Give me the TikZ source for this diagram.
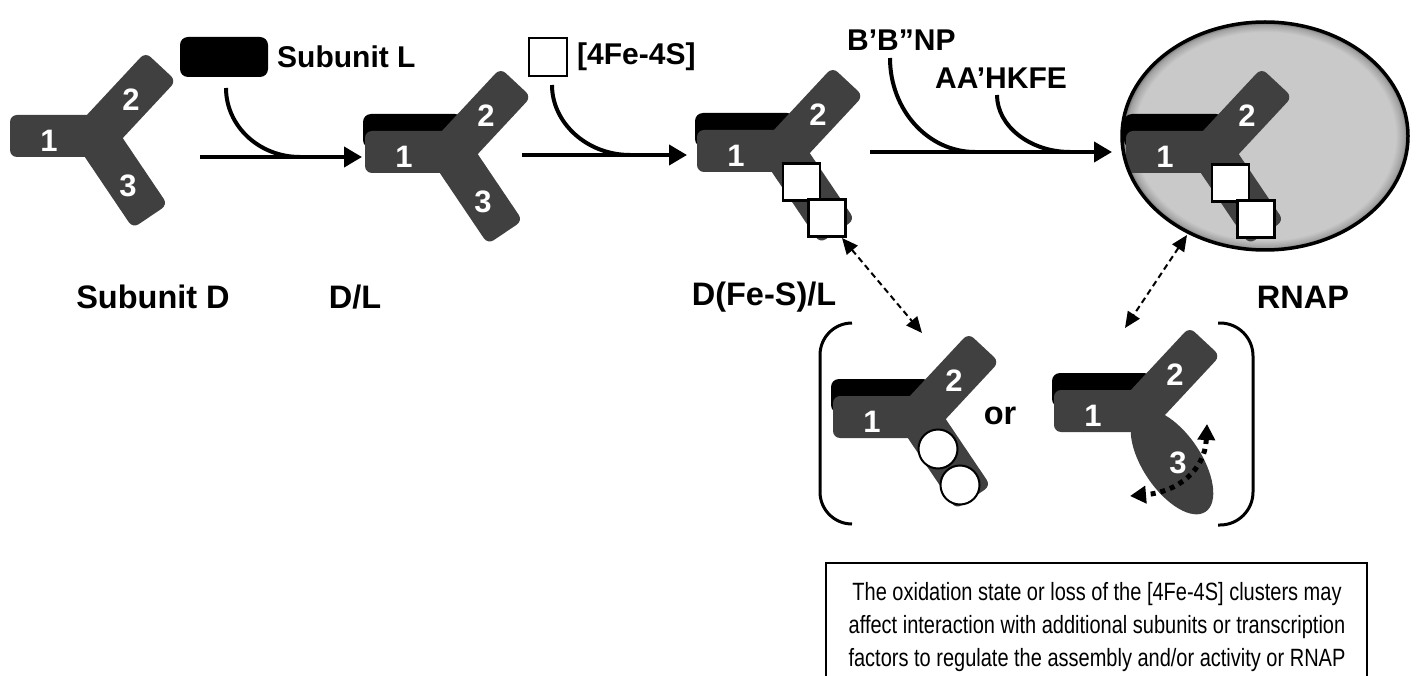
\documentclass[tikz,border=0pt]{standalone}
\usepackage{fontspec}
\setmainfont{Liberation Sans}
\usetikzlibrary{arrows.meta}
\definecolor{armgray}{HTML}{404040}
\definecolor{rnapgray}{HTML}{C9C9C9}
\definecolor{rimA}{HTML}{A2A2A2}
\definecolor{rimB}{HTML}{6A6A6A}
\pgfdeclareradialshading{rnaprim}{\pgfpoint{0bp}{0bp}}{color(0bp)=(rnapgray); color(22.8bp)=(rnapgray); color(24.3bp)=(rimA); color(25bp)=(rimB); color(50bp)=(rimB)}
\tikzset{
  arm/.style={fill=armgray, rounded corners=7pt},
  num/.style={text=white, font=\bfseries\fontsize{31}{31}\selectfont, inner sep=0pt},
  lbl/.style={font=\bfseries\fontsize{30}{30}\selectfont, inner sep=0pt},
  biglbl/.style={font=\bfseries\fontsize{32.5}{32.5}\selectfont, inner sep=0pt},
  mainarrow/.style={line width=4pt, -{Triangle[length=18pt,width=20pt]}},
  feed/.style={line width=4pt},
  dasharrow/.style={line width=2pt, dash pattern=on 6pt off 4pt, {Triangle[length=16pt,width=14pt]}-{Triangle[length=16pt,width=14pt]}},
  dotarrow/.style={line width=5pt, dash pattern=on 5pt off 5pt, {Triangle[length=16pt,width=17pt]}-{Triangle[length=16pt,width=17pt]}},
  cluster/.style={fill=white, draw=black, line width=2.5pt},
  bracket/.style={line width=3pt},
  arm one/.pic={\fill[arm] (10,-21) -- (-86,-21) -- (-86,21) -- (10,21) -- cycle;},
  arm two/.pic={\fill[arm, rotate=47] (-10,-21) -- (95,-21) -- (95,21) -- (-10,21) -- cycle;},
  arm three/.pic={\fill[arm, rotate=-56] (-10,-21) -- (97,-21) -- (97,21) -- (-10,21) -- cycle;},
  lbar/.pic={\fill[black, rounded corners=8pt] (-88,4) rectangle (12,38);},
  num12/.pic={\node[num] (-one) at (-47,-5) {1}; \node[num] (-two) at (35,36) {2};},
  num3/.pic={\node[num] (-three) at (32,-50) {3};},
  squares/.pic={\filldraw[cluster] (0,-12.5) rectangle (37,-49.5); \filldraw[cluster] (25.5,-48.5) rectangle (62.5,-85.5);},
  circles/.pic={\filldraw[cluster, line width=2pt] (19,-32) circle [radius=19.5pt]; \filldraw[cluster, line width=2pt] (41,-68) circle [radius=19.5pt];},
}
\begin{document}
\begin{tikzpicture}[x=1pt,y=1pt]
\useasboundingbox (0,0) rectangle (1421,-676);

% ---------- Y1: Subunit D ----------
\pic at (96,-136) {arm one};
\pic at (96,-136) {arm two};
\pic at (96,-136) {arm three};
\pic (y1) at (96,-136) {num12};
\pic (y1) at (96,-136) {num3};

% ---------- Subunit L + arrow 1 ----------
\node[fill=black, rounded corners=8pt, minimum width=88pt, minimum height=40pt, inner sep=0pt] (subL) at (224,-57) {};
\node[lbl, anchor=west] (subLtxt) at (277,-57) {Subunit L};
\coordinate (a1s) at (200,-157);
\coordinate (a1e) at (362,-157);
\coordinate (f1s) at (226,-88);
\coordinate (f1e) at (300,-157);
\draw[mainarrow] (a1s) -- (a1e);
\draw[feed] (f1s) .. controls (226,-126) and (259,-157) .. (f1e);

% ---------- Y2: D/L ----------
\pic at (451,-152) {lbar};
\pic at (451,-152) {arm one};
\pic at (451,-152) {arm two};
\pic at (451,-152) {arm three};
\pic (y2) at (451,-152) {num12};
\pic (y2) at (451,-152) {num3};

% ---------- [4Fe-4S] + arrow 2 ----------
\node[cluster, minimum size=38pt, inner sep=0pt] (fes) at (548,-57) {};
\node[lbl, anchor=west] (festxt) at (577,-57) {[4Fe-4S]};
\coordinate (a2s) at (522,-155);
\coordinate (a2e) at (687,-155);
\coordinate (f2s) at (552,-85);
\coordinate (f2e) at (630,-155);
\draw[mainarrow] (a2s) -- (a2e);
\draw[feed] (f2s) .. controls (552,-123) and (587,-155) .. (f2e);

% ---------- Y3: D(Fe-S)/L ----------
\pic at (783,-151) {lbar};
\pic at (783,-151) {arm one};
\pic at (783,-151) {arm two};
\pic at (783,-151) {arm three};
\pic (y3) at (783,-151) {num12};
\pic at (783,-151) {squares};

% ---------- arrow 3 ----------
\node[lbl, anchor=west] (bbnp) at (847,-40) {B’B”NP};
\node[lbl, anchor=west] (aahk) at (935,-78) {AA’HKFE};
\coordinate (a3s) at (870,-152);
\coordinate (a3e) at (1112,-152);
\coordinate (f3s) at (890,-58);
\coordinate (f3e) at (975,-152);
\coordinate (f4s) at (997,-95);
\coordinate (f4e) at (1070,-152);
\draw[mainarrow] (a3s) -- (a3e);
\draw[feed] (f3s) .. controls (890,-110) and (928,-152) .. (f3e);
\draw[feed] (f4s) .. controls (997,-126) and (1030,-152) .. (f4e);

% ---------- RNAP ----------
\shade[shading=rnaprim] (1265,-136) ellipse [x radius=143pt, y radius=114pt];
\pic at (1212,-152) {lbar};
\pic at (1212,-152) {arm one};
\pic at (1212,-152) {arm two};
\pic at (1212,-152) {arm three};
\pic (y4) at (1212,-152) {num12};
\pic at (1212,-152) {squares};
\draw[line width=3.5pt] (1265,-136) ellipse [x radius=143pt, y radius=114pt];

% ---------- labels ----------
\node[biglbl] (lD) at (153,-297) {Subunit D};
\node[biglbl] (lDL) at (355,-297) {D/L};
\node[biglbl] (lDFe) at (764,-297) {D(Fe-S)/L};
\node[biglbl] (lRNAP) at (1303,-297) {RNAP};

% ---------- dashed double arrows ----------
\coordinate (d1a) at (842,-238);
\coordinate (d1b) at (922,-333);
\coordinate (d2a) at (1187,-235);
\coordinate (d2b) at (1125,-328);
\draw[dasharrow] (d1a) -- (d1b);
\draw[dasharrow] (d2a) -- (d2b);

% ---------- brackets ----------
\draw[bracket, rounded corners=32pt] (852,-323) -- (820,-323) -- (820,-524) -- (852,-524);
\draw[bracket, rounded corners=33pt] (1218,-323) -- (1253,-323) -- (1253,-525) -- (1218,-525);

% ---------- Y5: cluster loss ----------
\pic at (919,-417) {lbar};
\pic at (919,-417) {arm one};
\pic at (919,-417) {arm two};
\pic at (919,-417) {arm three};
\pic (y5) at (919,-417) {num12};
\pic at (919,-417) {circles};

\node[biglbl] (or) at (1000,-416) {or};

% ---------- Y6: domain 3 movement ----------
\pic at (1140,-411) {lbar};
\pic at (1140,-411) {arm one};
\pic at (1140,-411) {arm two};
\begin{scope}[shift={(1172,-462)}, rotate=-56]
  \fill[armgray] (0,0) ellipse [x radius=60pt, y radius=29pt];
\end{scope}
\pic (y6) at (1140,-411) {num12};
\node[num] (y6three) at (1178,-463) {3};
\coordinate (m1) at (1207,-424);
\coordinate (m2) at (1130,-496);
\draw[dotarrow] (m1) .. controls (1205,-470) and (1178,-492) .. (m2);

% ---------- text box ----------
\draw[line width=1.5pt] (826,-690) -- (826,-563) -- (1367,-563) -- (1367,-690);
\begin{scope}[shift={(1097,-627)}, yscale=1.25]
\node[transform shape, align=center, font=\fontsize{20}{26.4}\selectfont, inner sep=0pt] (note) at (0,0)
  {The oxidation state or loss of the [4Fe-4S] clusters may\\
   affect interaction with additional subunits or transcription\\
   factors to regulate the assembly and/or activity or RNAP};
\end{scope}
\end{tikzpicture}
\end{document}
